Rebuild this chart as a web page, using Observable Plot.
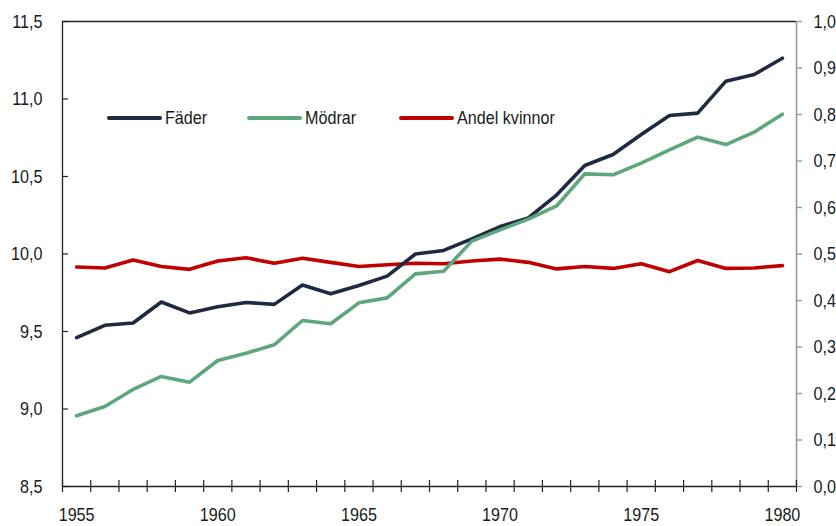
<!DOCTYPE html>
<html>
<head>
<meta charset="utf-8">
<script src="https://cdn.jsdelivr.net/npm/d3@7"></script>
<script src="https://cdn.jsdelivr.net/npm/@observablehq/plot@0.6"></script>
<style>
  body { margin: 0; background: #fff; }
  #wrap { position: relative; width: 836px; height: 526px; font-family: "Liberation Sans", Arial, sans-serif; }
  .leg { position: absolute; top: 107px; height: 22px; display: flex; align-items: center; font-size: 19px; color: #1a1a1a; white-space: nowrap; }
  .leg span.sw { display: inline-block; width: 55px; height: 4px; border-radius: 2px; margin-right: 3px; }
  .leg span.tx { display: inline-block; transform: scaleX(0.85); transform-origin: left center; }
</style>
</head>
<body>
<div id="wrap"></div>
<script>
const years = [1955,1956,1957,1958,1959,1960,1961,1962,1963,1964,1965,1966,1967,1968,1969,1970,1971,1972,1973,1974,1975,1976,1977,1978,1979,1980];
const fader = [9.46,9.54,9.555,9.69,9.62,9.66,9.687,9.675,9.80,9.743,9.797,9.857,10.0,10.023,10.098,10.177,10.233,10.38,10.571,10.642,10.771,10.894,10.909,11.115,11.158,11.263];
const modrar = [8.956,9.016,9.126,9.21,9.173,9.313,9.36,9.414,9.571,9.55,9.685,9.717,9.872,9.889,10.083,10.156,10.225,10.31,10.517,10.511,10.586,10.672,10.754,10.706,10.786,10.902];
const andel = [0.472,0.470,0.487,0.473,0.467,0.485,0.492,0.480,0.491,0.482,0.473,0.477,0.480,0.479,0.485,0.489,0.482,0.468,0.473,0.469,0.479,0.462,0.486,0.469,0.470,0.475];
const seriesNames = ["Fäder", "Mödrar", "Andel kvinnor"];
const seriesColors = ["#1f2a40", "#5ea77e", "#c00000"];
const leftTicks = [8.5, 9.0, 9.5, 10.0, 10.5, 11.0, 11.5];
const rightTicks = [0.0, 0.1, 0.2, 0.3, 0.4, 0.5, 0.6, 0.7, 0.8, 0.9, 1.0];
const xLabels = [1955, 1960, 1965, 1970, 1975, 1980];

// left scale domain and mapping of right axis (0..1) onto it
const yMin = 8.5, yMax = 11.5;
const toLeft = v => yMin + v * (yMax - yMin);
const xMin = years[0] - 0.5, xMax = years[years.length - 1] + 0.5;
const boundaries = d3.range(years.length + 1).map(i => xMin + i);

const rows = [];
years.forEach((yr, i) => {
  rows.push({year: yr, series: seriesNames[0], v: fader[i]});
  rows.push({year: yr, series: seriesNames[1], v: modrar[i]});
});
const rowsAndel = years.map((yr, i) => ({year: yr, v: andel[i]}));
const comma = d => d.toFixed(1).replace(".", ",");

const chart = Plot.plot({
  width: 836,
  height: 526,
  marginLeft: 62,
  marginRight: 40,
  marginTop: 21,
  marginBottom: 40,
  style: {fontFamily: '"Liberation Sans", Arial, sans-serif', fontSize: "19px", color: "#1a1a1a", background: "#fff"},
  x: {domain: [xMin, xMax], axis: null},
  y: {domain: [yMin, yMax], axis: null},
  color: {domain: seriesNames, range: seriesColors},
  marks: [
    // frame lines
    Plot.ruleY([yMax], {stroke: "#222", strokeWidth: 1.3}),
    Plot.ruleX([xMin], {stroke: "#222", strokeWidth: 1.3}),
    Plot.ruleX([xMax], {stroke: "#9a9a9a", strokeWidth: 1.6}),
    // left axis: inward ticks + labels
    Plot.ruleY(leftTicks, {y: d => d, x1: xMin, x2: xMin, insetRight: -6, stroke: "#222", strokeWidth: 1.2}),
    Plot.axisY({ticks: leftTicks, tickSize: 0, tickPadding: 20, tickFormat: comma, fontSize: 19, label: null}),
    // right axis: outward gray ticks + labels
    Plot.ruleY(rightTicks, {y: d => toLeft(d), x1: xMax, x2: xMax, insetRight: -6, stroke: "#9a9a9a", strokeWidth: 1.4}),
    Plot.axisY({anchor: "right", ticks: rightTicks.map(toLeft), tickSize: 0, tickPadding: 17, tickFormat: d => comma((d - yMin) / (yMax - yMin)), fontSize: 19, label: null}),
    // bottom axis: line + crossing ticks + labels
    Plot.ruleY([yMin], {stroke: "#222", strokeWidth: 1.3}),
    Plot.ruleX(boundaries, {x: d => d, y1: yMin, y2: yMin, insetTop: -6, insetBottom: -6, stroke: "#222", strokeWidth: 1.2}),
    Plot.axisX({ticks: xLabels, tickSize: 0, tickPadding: 21, tickFormat: d => String(d), fontSize: 19, label: null}),
    // data
    Plot.line(rowsAndel, {x: "year", y: d => toLeft(d.v), stroke: seriesColors[2], strokeWidth: 3.6}),
    Plot.line(rows, {x: "year", y: "v", z: "series", stroke: "series", strokeWidth: 3.6})
  ]
});

const wrap = document.getElementById("wrap");
wrap.appendChild(chart);

// condense all text horizontally (keeps positions and anchors)
chart.querySelectorAll("text").forEach(t => {
  const w = t.getComputedTextLength();
  if (w > 0) {
    t.setAttribute("textLength", (w * 0.85).toFixed(2));
    t.setAttribute("lengthAdjust", "spacingAndGlyphs");
  }
});

// legend overlay
const legendLeft = [107, 247, 399];
seriesNames.forEach((name, i) => {
  const d = document.createElement("div");
  d.className = "leg";
  d.style.left = legendLeft[i] + "px";
  d.innerHTML = `<span class="sw" style="background:${seriesColors[i]}"></span><span class="tx">${name}</span>`;
  wrap.appendChild(d);
});
</script>
</body>
</html>
